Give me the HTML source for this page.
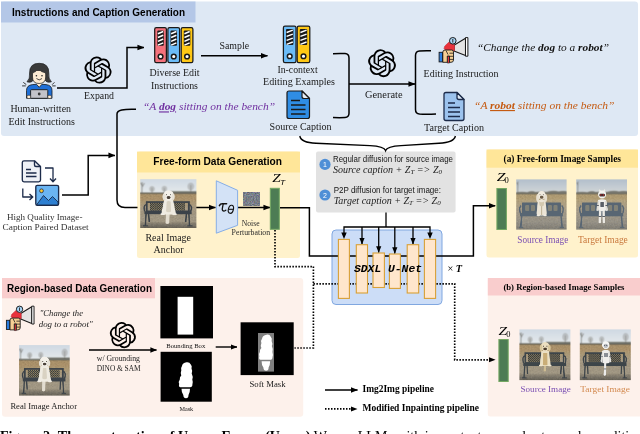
<!DOCTYPE html>
<html><head><meta charset="utf-8"><title>Figure</title>
<style>
html,body{margin:0;padding:0;background:#fff;}
body{width:640px;height:434px;overflow:hidden;}
svg{display:block;will-change:transform;}
.se{font-family:"Liberation Serif",serif;}
.sa{font-family:"Liberation Sans",sans-serif;}
.mo{font-family:"Liberation Mono",monospace;}
</style></head><body>
<svg width="640" height="434" viewBox="0 0 640 434">
<defs>
<marker id="ah" viewBox="0 0 10 10" refX="9.3" refY="5" markerWidth="4.7" markerHeight="4.7" orient="auto" markerUnits="strokeWidth"><path d="M0,1 L10,5 L0,9 z" fill="#000"/></marker>
<marker id="ahs" viewBox="0 0 10 10" refX="9.3" refY="5" markerWidth="5" markerHeight="5" orient="auto" markerUnits="strokeWidth"><path d="M0,1 L10,5 L0,9 z" fill="#000"/></marker>
<path id="oai" d="M22.2819 9.8211a5.9847 5.9847 0 0 0-.5157-4.9108 6.0462 6.0462 0 0 0-6.5098-2.9A6.0651 6.0651 0 0 0 4.9807 4.1818a5.9847 5.9847 0 0 0-3.9977 2.9 6.0462 6.0462 0 0 0 .7427 7.0966 5.98 5.98 0 0 0 .511 4.9107 6.051 6.051 0 0 0 6.5146 2.9001A5.9847 5.9847 0 0 0 13.2599 24a6.0557 6.0557 0 0 0 5.7718-4.2058 5.9894 5.9894 0 0 0 3.9977-2.9001 6.0557 6.0557 0 0 0-.7475-7.0729zm-9.022 12.6081a4.4755 4.4755 0 0 1-2.8764-1.0408l.1419-.0804 4.7783-2.7582a.7948.7948 0 0 0 .3927-.6813v-6.7369l2.02 1.1686a.071.071 0 0 1 .038.052v5.5826a4.504 4.504 0 0 1-4.4945 4.4944zm-9.6607-4.1254a4.4708 4.4708 0 0 1-.5346-3.0137l.142.0852 4.783 2.7582a.7712.7712 0 0 0 .7806 0l5.8428-3.3685v2.3324a.0804.0804 0 0 1-.0332.0615L9.74 19.9502a4.4992 4.4992 0 0 1-6.1408-1.6464zM2.3408 7.8956a4.485 4.485 0 0 1 2.3655-1.9728V11.6a.7664.7664 0 0 0 .3879.6765l5.8144 3.3543-2.0201 1.1685a.0757.0757 0 0 1-.071 0l-4.8303-2.7865A4.504 4.504 0 0 1 2.3408 7.872zm16.5963 3.8558L13.1038 8.364 15.1192 7.2a.0757.0757 0 0 1 .071 0l4.8303 2.7913a4.4944 4.4944 0 0 1-.6765 8.1042v-5.6772a.79.79 0 0 0-.407-.667zm2.0107-3.0231l-.142-.0852-4.7735-2.7818a.7759.7759 0 0 0-.7854 0L9.409 9.2297V6.8974a.0662.0662 0 0 1 .0284-.0615l4.8303-2.7866a4.4992 4.4992 0 0 1 6.6802 4.66zM8.3065 12.863l-2.02-1.1638a.0804.0804 0 0 1-.038-.0567V6.0742a4.4992 4.4992 0 0 1 7.3757-3.4537l-.142.0805L8.704 5.459a.7948.7948 0 0 0-.3927.6813zm1.0976-2.3654l2.602-1.4998 2.6069 1.4998v2.9994l-2.5974 1.4997-2.6067-1.4997Z"/>

<linearGradient id="sky" x1="0" y1="0" x2="0" y2="1"><stop offset="0" stop-color="#cfd9e3"/><stop offset="1" stop-color="#e6eaec"/></linearGradient>
<linearGradient id="field" x1="0" y1="0" x2="0" y2="1"><stop offset="0" stop-color="#ab946b"/><stop offset="0.45" stop-color="#af9a74"/><stop offset="0.62" stop-color="#a89d88"/><stop offset="0.86" stop-color="#9a917f"/><stop offset="0.94" stop-color="#77736a"/><stop offset="1" stop-color="#5f5c54"/></linearGradient>
<filter id="bl" x="-10%" y="-10%" width="120%" height="120%"><feGaussianBlur stdDeviation="1.1"/></filter>
<filter id="bl2" x="-10%" y="-10%" width="120%" height="120%"><feGaussianBlur stdDeviation="0.55"/></filter>
<filter id="nz" x="0" y="0" width="100%" height="100%" color-interpolation-filters="sRGB"><feTurbulence type="fractalNoise" baseFrequency="0.9" numOctaves="2" seed="7"/><feColorMatrix type="matrix" values="0.42 0.12 0.12 0 0.14  0.12 0.38 0.12 0 0.18  0.12 0.12 0.42 0 0.2  0 0 0 0 1"/></filter>
<pattern id="lat" width="4" height="4" patternUnits="userSpaceOnUse"><rect width="4" height="4" fill="#9c8a64"/><path d="M0,0 L4,4 M4,0 L0,4" stroke="#33393e" stroke-width="1.100"/></pattern>
<clipPath id="cp"><rect x="0" y="0" width="100" height="100"/></clipPath>
<filter id="grain" x="0" y="0" width="100%" height="100%" color-interpolation-filters="sRGB"><feTurbulence type="fractalNoise" baseFrequency="0.35" numOctaves="2" seed="3"/><feColorMatrix type="matrix" values="0 0 0 0 0.25  0 0 0 0 0.2  0 0 0 0 0.12  0.9 0.9 0 0 -0.62"/></filter>
<filter id="grainL" x="0" y="0" width="100%" height="100%" color-interpolation-filters="sRGB"><feTurbulence type="fractalNoise" baseFrequency="0.3" numOctaves="2" seed="11"/><feColorMatrix type="matrix" values="0 0 0 0 0.85  0 0 0 0 0.78  0 0 0 0 0.62  0.9 0.9 0 0 -0.66"/></filter>
<g id="scene" clip-path="url(#cp)">
<rect x="0" y="0" width="100" height="100" fill="url(#field)"/>
<rect x="0" y="0" width="100" height="29" fill="url(#sky)"/>
<g filter="url(#bl)">
<path d="M3,28 L3.500,6 M3.500,14 L0.500,7 M3.500,16 L7.500,8" stroke="#6a6862" stroke-width="1.500" fill="none" opacity="0.75"/>
<ellipse cx="21" cy="20" rx="5" ry="6" fill="#8c8c88" opacity="0.45"/><path d="M21,18 V28" stroke="#6a6862" stroke-width="1" opacity="0.7"/>
<ellipse cx="43" cy="19.500" rx="5" ry="6" fill="#8c8c88" opacity="0.42"/><path d="M43,18 V28" stroke="#6a6862" stroke-width="1" opacity="0.7"/>
<ellipse cx="90" cy="15" rx="6" ry="8" fill="#8f8f8c" opacity="0.42"/><path d="M90,12 V27" stroke="#6a6862" stroke-width="1.100" opacity="0.7"/>
<rect x="-2" y="27" width="104" height="3.600" fill="#5d5b50" opacity="0.8"/>
<rect x="52" y="24.500" width="50" height="4" fill="#55554c" opacity="0.75"/>
<rect x="-2" y="31" width="104" height="12" fill="#ad9268" opacity="0.75"/>
<rect x="-2" y="74" width="104" height="14" fill="#a59c8b" opacity="0.75"/>
</g>
<rect x="0" y="30" width="100" height="70" filter="url(#grain)" opacity="0.22"/>
<rect x="0" y="30" width="100" height="70" filter="url(#grainL)" opacity="0.25"/>
</g>
<linearGradient id="skyA" x1="0" y1="0" x2="0" y2="1"><stop offset="0" stop-color="#b3bfcc"/><stop offset="1" stop-color="#d3d7d8"/></linearGradient>
<linearGradient id="fieldA" x1="0" y1="0" x2="0" y2="1"><stop offset="0" stop-color="#b09d76"/><stop offset="0.4" stop-color="#b7a681"/><stop offset="0.62" stop-color="#a69d8d"/><stop offset="0.85" stop-color="#96938b"/><stop offset="1" stop-color="#7d7c77"/></linearGradient>
<g id="sceneA" clip-path="url(#cp)">
<rect x="0" y="0" width="100" height="100" fill="url(#fieldA)"/>
<rect x="0" y="0" width="100" height="28" fill="url(#skyA)"/>
<g filter="url(#bl)">
<path d="M3,28 L3.500,4 M3.500,12 L1,6" stroke="#6a6862" stroke-width="1.400" fill="none" opacity="0.7"/>
<path d="M-2,30 L-2,26 Q10,24 22,25.500 Q30,22 38,25 Q50,24 60,25 Q72,21 84,24 Q94,22 102,24 L102,30z" fill="#66655b" opacity="0.85"/>
<rect x="-2" y="30" width="104" height="10" fill="#b29c72" opacity="0.7"/>
</g>
<rect x="0" y="29" width="100" height="71" filter="url(#grain)" opacity="0.22"/>
<rect x="0" y="29" width="100" height="71" filter="url(#grainL)" opacity="0.28"/>
</g>
<g id="benchL" filter="url(#bl2)">
<rect x="17" y="49" width="63" height="15" fill="url(#lat)"/>
<rect x="40" y="47" width="20" height="19" fill="currentColor"/>
<path d="M11.500,47 H86.500 V66 H11.500z" fill="none" stroke="currentColor" stroke-width="3.300"/>
<rect x="7.500" y="66" width="84" height="6" fill="currentColor"/>
<path d="M10,52 Q5,55 8,66 M88,52 Q93,55 90,66" fill="none" stroke="currentColor" stroke-width="2.6"/>
<path d="M10.500,72 L9,95 M15,72 L16,88 M86.500,72 L88,95 M82,72 L81,88" stroke="currentColor" stroke-width="2.600" fill="none"/>
<path d="M5,95.500 h9 M84,95.500 h9" stroke="currentColor" stroke-width="2.200"/>
</g>
<g id="benchS" filter="url(#bl2)">
<rect x="11" y="46" width="78" height="22" rx="2" fill="currentColor"/>
<g fill="#8d8a78" opacity="0.8"><rect x="18" y="51" width="8" height="12" rx="2"/><rect x="29" y="51" width="8" height="12" rx="2"/><rect x="63" y="51" width="8" height="12" rx="2"/><rect x="74" y="51" width="8" height="12" rx="2"/></g>
<rect x="7.500" y="67" width="85" height="6.500" fill="currentColor"/>
<path d="M10,52 Q5,55 8,67 M90,52 Q95,55 92,67" fill="none" stroke="currentColor" stroke-width="2.800"/>
<path d="M11,73 L9,95 M89,73 L91,95" stroke="currentColor" stroke-width="3" fill="none"/>
<path d="M5,95.500 h9 M86,95.500 h9" stroke="currentColor" stroke-width="2.200"/>
</g>
<g id="dogfig" filter="url(#bl2)">
<path d="M46,71 L45,90 Q48.500,93.500 51.500,90 L52.500,71z" fill="#e2dccf"/>
<path d="M42.500,42 Q50.500,37 58.500,42 L63,68 Q64,72.500 58,72.500 L43,72.500 Q37,72.500 38,68z" fill="#efebe1"/>
<path d="M47,46 Q50.500,44 54,46 L55,66 Q50.500,69 46,66z" fill="#d9d2c2"/>
<ellipse cx="50.500" cy="32.500" rx="9.300" ry="9.800" fill="#f4f1ea"/>
<ellipse cx="42.500" cy="36" rx="3" ry="6.500" fill="#e7e2d7"/><ellipse cx="58.500" cy="36" rx="3" ry="6.500" fill="#e7e2d7"/>
<ellipse cx="50.500" cy="37.500" rx="3.400" ry="2.800" fill="#4a4038"/>
<circle cx="47" cy="32" r="1" fill="#3a332c"/><circle cx="54" cy="32" r="1" fill="#3a332c"/>
<ellipse cx="40" cy="71.500" rx="4" ry="2" fill="#f1ede4"/><ellipse cx="61" cy="71.500" rx="4" ry="2" fill="#f1ede4"/>
</g>
<g id="dogA" filter="url(#bl2)">
<path d="M43,42 Q50.500,38 58,42 L60.500,66 Q61,72 57,72 L44,72 Q40,72 40.500,66z" fill="#ece5d6"/>
<path d="M49.700,48 L49.700,71 L51.300,71 L51.300,48z" fill="#b9ab8d"/>
<path d="M45.500,44 Q50.500,47 55.500,44 L54.500,52 Q50.500,55 46.500,52z" fill="#d3c8af"/>
<ellipse cx="50.500" cy="31.500" rx="8" ry="8.500" fill="#f1ece0"/>
<ellipse cx="42.500" cy="37" rx="2.800" ry="8" fill="#e6dfcf"/><ellipse cx="58.500" cy="37" rx="2.800" ry="8" fill="#e6dfcf"/>
<ellipse cx="50.500" cy="35.500" rx="3.600" ry="3" fill="#6b5a44"/>
<circle cx="47.300" cy="30.500" r="0.900" fill="#4a4038"/><circle cx="53.700" cy="30.500" r="0.900" fill="#4a4038"/>
<ellipse cx="44" cy="71.500" rx="3.500" ry="1.800" fill="#f1ede4"/><ellipse cx="57" cy="71.500" rx="3.500" ry="1.800" fill="#f1ede4"/>
</g>
<g id="dogB" filter="url(#bl2)">
<path d="M48,72 L47.500,82 Q50,84 52,82 L52,72z" fill="#cdbb92"/>
<path d="M43,43 Q50.500,39 58,43 L61,68 Q61.500,72 57,72 L44,72 Q39.500,72 40,68z" fill="#eadfc3"/>
<path d="M46.500,47 Q50.500,45 54.500,47 L55,70 Q50.500,71.500 46,70z" fill="#c9ad77"/>
<ellipse cx="50.500" cy="34" rx="8.800" ry="9" fill="#ecdfc0"/>
<ellipse cx="42.500" cy="36.500" rx="2.800" ry="6" fill="#d9c79c"/><ellipse cx="58.500" cy="36.500" rx="2.800" ry="6" fill="#d9c79c"/>
<ellipse cx="50.500" cy="38.500" rx="3.400" ry="2.800" fill="#4a3b2a"/>
<circle cx="47" cy="33" r="1" fill="#3a2c20"/><circle cx="54" cy="33" r="1" fill="#3a2c20"/>
<ellipse cx="41.500" cy="71" rx="3.500" ry="1.800" fill="#efe6cf"/><ellipse cx="59.500" cy="71" rx="3.500" ry="1.800" fill="#efe6cf"/>
</g>
<g id="robA" filter="url(#bl2)">
<path d="M45,62 L44,86 Q46.500,88.500 49,86 L49.500,64z M56,62 L57,86 Q54.500,88.500 52,86 L51.500,64z" fill="#eceae4"/>
<path d="M44,74 h5.500 M51.500,74 h5.500" stroke="#5a5f66" stroke-width="2"/>
<path d="M43,41 Q51,38 59,41 L58,62 Q51,65 44,62z" fill="#f0efeb"/>
<rect x="47.500" y="45" width="7" height="10" rx="1" fill="#5a6068"/>
<path d="M42.500,42 L39.500,62 L43.500,63.500 L45.500,44z M59.500,42 L62.500,62 L58.500,63.500 L56.500,44z" fill="#dedcd5"/>
<path d="M40,52 h4.500 M57.500,52 h4.500" stroke="#5a5f66" stroke-width="1.800"/>
<path d="M44,24 L46,19 L49,23z M58,24 L56,19 L53,23z" fill="#eceae4"/>
<ellipse cx="51" cy="30" rx="8" ry="8" fill="#f4f3ef"/>
<rect x="45.500" y="28.500" width="11" height="5.500" rx="2.500" fill="#3a2a2c"/>
<circle cx="48.500" cy="31" r="1.200" fill="#e03030"/><circle cx="53.500" cy="31" r="1.200" fill="#e03030"/>
</g>
<g id="robB" filter="url(#bl2)">
<path d="M48,66 L46.500,90 Q48.500,93 51,90 L52,66z" fill="#ebebea"/>
<path d="M47,78 h5" stroke="#6a6f76" stroke-width="1.800"/>
<path d="M44,42 Q51,39 58,42 L57.500,66 Q51,68.500 44.500,66z" fill="#efeeec"/>
<path d="M47,46 h8 v8 h-8z" fill="#8a8f96"/>
<path d="M43.500,43 L40.500,62 Q41,66 44,65 L46,45z M58.500,43 L61.500,62 Q61,66 58,65 L56,45z" fill="#e0dfdc"/>
<path d="M41,54 h4 M57,54 h4" stroke="#6a6f76" stroke-width="1.600"/>
<ellipse cx="51" cy="31" rx="7.200" ry="7.800" fill="#f5f5f3"/>
<ellipse cx="51" cy="32.500" rx="4.500" ry="4" fill="#b9bcc0"/>
<circle cx="49" cy="31.500" r="1" fill="#3a3f46"/><circle cx="53" cy="31.500" r="1" fill="#3a3f46"/>
</g>
<g id="mega">
<path d="M17.500,8.200 L29,1.200 V18.600 L17.500,14z" fill="#e4e4e4" stroke="#1a1a1a" stroke-width="1.100" stroke-linejoin="round"/>
<path d="M29,0.600 H31.400 V19.200 H29z" fill="#fff" stroke="#1a1a1a" stroke-width="1" stroke-linejoin="round"/>
<path d="M8.300,9 L12.500,5 L18,8 V13.600 L9.500,13.600 L7.500,11.500z" fill="#e8323c" stroke="#c0202a" stroke-width="0.500"/>
<circle cx="16.300" cy="3.800" r="3.300" fill="#a9d5f5" stroke="#1a1a1a" stroke-width="1"/>
<path d="M16.300,2 V5.600" stroke="#1a1a1a" stroke-width="0.900"/>
<path d="M10.800,19 H13 V26 H10.800z" fill="#e8323c" stroke="#1a1a1a" stroke-width="0.600"/>
<path d="M6.300,15.300 Q6.300,13 8.500,13 L15,13 Q17,13 17,15 L17,23 Q17,25.300 14.500,25.300 L13,25.300 L13,19 L10.800,19 L10.800,25.300 L6.300,25.300z" fill="#f5cf94" stroke="#1a1a1a" stroke-width="0.900" stroke-linejoin="round"/>
<path d="M13,16.200 H17 M13,19.300 H17 M13,22.400 H17 M9.500,13.500 L11.500,17.500" stroke="#1a1a1a" stroke-width="0.800" fill="none"/>
<rect x="2.600" y="15.300" width="3.400" height="9.600" fill="#2b7de0" stroke="#1a1a1a" stroke-width="0.900"/>
</g>
<path id="maskshape" d="M186.500,362.300 Q189.500,361.800 190.800,364.500 Q192.300,366 191.500,368.500 Q192.800,371 191.700,373.500 Q193.300,376.500 192.300,379.500 Q193.300,382.500 192.400,384.500 Q192.500,387.300 190,387.300 L180.500,387.300 Q178.300,387 179.200,384 Q178.200,381.500 179.800,379.500 Q179.500,377 181.300,375.500 Q180.200,373 181.300,370.500 Q180.500,368 182,366 Q182.500,362.800 186.500,362.300z M181.500,388.800 L190,388.800 Q190,393 188.500,395 Q188.500,398.300 186,398.300 Q183.500,398.300 183.300,395 Q181.500,393 181.500,388.800z"/>
</defs>
<rect x="1" y="1.500" width="637" height="134.500" rx="3" fill="#dee8f4"/>
<rect x="1" y="1.500" width="194.500" height="21" fill="#b4c7e7"/>
<rect x="137" y="151.600" width="163" height="106.400" rx="2.500" fill="#fff2cc"/>
<rect x="137" y="151.600" width="163" height="20.900" fill="#ffe699"/>
<rect x="316" y="151.500" width="139.600" height="61" rx="2" fill="#e2e2e2"/>
<rect x="486.500" y="149.500" width="151.500" height="108" rx="2.500" fill="#fff2cc"/>
<rect x="486.500" y="149.500" width="151.500" height="18.200" fill="#ffe699"/>
<rect x="487.800" y="278" width="154" height="138.600" rx="2.500" fill="#fdf1eb"/>
<rect x="487.800" y="278" width="154" height="17.500" fill="#f9cdcd"/>
<rect x="2" y="278" width="301.200" height="138.700" rx="3" fill="#fdf1eb"/>
<rect x="2" y="278" width="153" height="20.300" fill="#f9cdcd"/>
<rect x="332" y="230" width="110" height="74.500" rx="4" fill="#ccddf7" stroke="#80a7e0" stroke-width="1"/>
<g fill="none" stroke="#000" stroke-width="1.500" stroke-linejoin="miter">
<path d="M57,88 H127 V47.500 H144" marker-end="url(#ah)"/>
<path d="M201,55.800 H267.500" marker-end="url(#ah)"/>
<path d="M333,53.700 Q340,53.200 345,53.600 Q349,54 349,58 V113.300 Q349,117.300 345,117.500 Q340,117.800 333,117.500"/>
<path d="M349,84 H415" marker-end="url(#ah)"/>
<path d="M431,50.800 Q424,50.600 419.500,51 Q415.500,51.400 415.500,55.500 V109.500 Q415.500,113.600 419.500,114 Q426,114.400 436,114"/>
<path d="M136,109.300 Q117,108.500 117,114 V200 Q117,207.500 125,207.500 H137.500"/>
<path d="M62,195 H88.200 V155.400 H115" marker-end="url(#ah)"/>
<path d="M196,207.500 H215.500" marker-end="url(#ah)"/>
<path d="M238,207.500 H270" marker-end="url(#ah)"/>
<path d="M280,207.800 H309.400 V256 H473.400 V205.800 H495.200" marker-end="url(#ah)"/>
</g>
<path d="M299.800,136 Q301,142.500 316,143.300 L370,145.600 Q384,146.200 385.600,150.600 Q387.200,146.200 401,145.600 L439,143.300 Q454,142.500 455.400,136" fill="none" stroke="#000" stroke-width="1.400"/>
<g fill="none" stroke="#000" stroke-width="1.650" stroke-dasharray="1.500,1.500">
<path d="M275,230 V266.600 H313.400 V348 H294.500"/>
<path d="M313.400,283.800 H454.700 V359.800 H490"/>
<path d="M325,408.900 H352"/>
</g>
<path d="M489,357.300 L495.600,359.800 L489,362.300z M351,406.400 L357.500,408.900 L351,411.400z" fill="#000"/>
<path d="M325,390 H357.500" fill="none" stroke="#000" stroke-width="1.500" marker-end="url(#ah)"/>
<path d="M89,350 H156.500" fill="none" stroke="#000" stroke-width="1.400" marker-end="url(#ah)"/>
<path d="M215.700,347 H237" fill="none" stroke="#000" stroke-width="1.400" marker-end="url(#ah)"/>
<g fill="#ffe6cc" stroke="#d9a036" stroke-width="1.100">
<rect x="338.400" y="239.400" width="11" height="59"/>
<rect x="356.300" y="244.700" width="11.200" height="48.300"/>
<rect x="373" y="253" width="11.400" height="34.500"/>
<rect x="389.400" y="254" width="11" height="34.400"/>
<rect x="407.200" y="244.700" width="11.500" height="48.300"/>
<rect x="424.400" y="239.400" width="11.200" height="59"/>
</g>
<g fill="none" stroke="#000" stroke-width="1.300">
<path d="M386,212.500 V227"/>
<path d="M344,235 V227 H430 V235"/>
<path d="M362,227 V244" marker-end="url(#ahs)"/>
<path d="M378.700,227 V252.300" marker-end="url(#ahs)"/>
<path d="M394.800,227 V253.300" marker-end="url(#ahs)"/>
<path d="M413,227 V244" marker-end="url(#ahs)"/>
</g>
<path d="M341.300,232.600 L344,239 L346.700,232.600z M427.300,232.600 L430,239 L432.700,232.600z" fill="#000"/>
<use href="#oai" transform="translate(84.500,56.500) scale(1.130)"/>
<use href="#oai" transform="translate(368.100,49.300) scale(1.160)"/>
<use href="#oai" transform="translate(109.800,322) scale(1.090)"/>
<g>
<path d="M27,81.800 Q30.200,79 29.600,73 Q29.400,63.300 39.200,63.300 Q49,63.300 48.800,73 Q48.200,79 51.400,81.800 Q47,83.200 45,80 L33.400,80 Q31.400,83.200 27,81.800z" fill="#3a3a3a" stroke="#1a1a1a" stroke-width="0.700"/>
<path d="M37,82 H41.400 V87 H37z" fill="#fdebd3"/>
<path d="M26.500,98.300 V90.500 Q26.500,85.300 32.500,84.600 L36.500,84.300 L39.200,87.300 L41.900,84.300 L46,84.600 Q52,85.300 52,90.500 V98.300z" fill="#1f6fd6" stroke="#1a1a1a" stroke-width="0.800" stroke-linejoin="round"/>
<path d="M32.500,74 Q32.500,70.500 35,70.500 L43.500,70.500 Q45.700,70.500 45.700,74 L45.700,77 Q45.700,83.500 39.100,83.500 Q32.500,83.500 32.500,77z" fill="#fdebd3" stroke="#1a1a1a" stroke-width="0.700"/>
<path d="M32.200,73.500 Q36,72.500 38,69 Q41,72.500 46,73.500 L46,69 Q42,65.500 36,66.500 Q32,68 32.200,73.500z" fill="#3a3a3a"/>
<circle cx="36.400" cy="75.800" r="0.800" fill="#222"/><circle cx="42" cy="75.800" r="0.800" fill="#222"/>
<path d="M36.700,78.800 Q39.200,81.300 41.700,78.800" fill="none" stroke="#222" stroke-width="0.800" stroke-linecap="round"/>
<rect x="30.600" y="89.700" width="17.200" height="8.600" rx="0.800" fill="#c3c3c9" stroke="#1a1a1a" stroke-width="0.900"/>
<circle cx="39.200" cy="94" r="1.400" fill="#3a3a3a"/>
<rect x="27" y="95.300" width="3.600" height="3.200" rx="1.200" fill="#fdebd3" stroke="#222" stroke-width="0.600"/>
<rect x="47.800" y="95.300" width="3.600" height="3.200" rx="1.200" fill="#fdebd3" stroke="#222" stroke-width="0.600"/>
<g stroke="#222" stroke-width="0.900" stroke-linecap="round"><path d="M23.600,82.600 L26,84.400 M22.500,85.900 H25.400 M54.200,82.600 L52.400,84.400 M52.600,85.900 H55.300"/></g>
</g>
<g stroke="#1a1a1a" stroke-linejoin="round"><rect x="154.7" y="27.6" width="11.7" height="35" rx="1.6" fill="#f4727c" stroke-width="1.25"/><rect x="157.30" y="30.50" width="6.50" height="15.22" rx="1" fill="#1a1a1a" stroke="none"/><path d="M157.90,33.74 l5.30,-2.3M157.90,37.54 l5.30,-2.3M157.90,41.35 l5.30,-2.3M157.90,45.15 l5.30,-2.3" stroke="#fff" stroke-width="1.5" fill="none"/><circle cx="160.55" cy="56.48" r="2.350" fill="#fff" stroke-width="1.500"/></g>
<g stroke="#1a1a1a" stroke-linejoin="round"><rect x="167.9" y="27.6" width="11.7" height="35" rx="1.6" fill="#6cbcf7" stroke-width="1.25"/><rect x="170.50" y="30.50" width="6.50" height="15.22" rx="1" fill="#1a1a1a" stroke="none"/><path d="M171.10,33.74 l5.30,-2.3M171.10,37.54 l5.30,-2.3M171.10,41.35 l5.30,-2.3M171.10,45.15 l5.30,-2.3" stroke="#fff" stroke-width="1.5" fill="none"/><circle cx="173.75" cy="56.48" r="2.350" fill="#fff" stroke-width="1.500"/></g>
<g stroke="#1a1a1a" stroke-linejoin="round"><rect x="181.2" y="27.6" width="11.7" height="35" rx="1.6" fill="#ffc815" stroke-width="1.25"/><rect x="183.80" y="30.50" width="6.50" height="15.22" rx="1" fill="#1a1a1a" stroke="none"/><path d="M184.40,33.74 l5.30,-2.3M184.40,37.54 l5.30,-2.3M184.40,41.35 l5.30,-2.3M184.40,45.15 l5.30,-2.3" stroke="#fff" stroke-width="1.5" fill="none"/><circle cx="187.05" cy="56.48" r="2.350" fill="#fff" stroke-width="1.500"/></g>
<g stroke="#1a1a1a" stroke-linejoin="round"><rect x="283.4" y="26.2" width="12.6" height="36.4" rx="1.6" fill="#6cbcf7" stroke-width="1.25"/><rect x="286.00" y="29.10" width="7.40" height="15.83" rx="1" fill="#1a1a1a" stroke="none"/><path d="M286.60,32.46 l6.20,-2.3M286.60,36.42 l6.20,-2.3M286.60,40.38 l6.20,-2.3M286.60,44.34 l6.20,-2.3" stroke="#fff" stroke-width="1.5" fill="none"/><circle cx="289.70" cy="56.23" r="2.350" fill="#fff" stroke-width="1.500"/></g>
<g stroke="#1a1a1a" stroke-linejoin="round"><rect x="297.2" y="26.2" width="12.6" height="36.4" rx="1.6" fill="#ffc815" stroke-width="1.25"/><rect x="299.80" y="29.10" width="7.40" height="15.83" rx="1" fill="#1a1a1a" stroke="none"/><path d="M300.40,32.46 l6.20,-2.3M300.40,36.42 l6.20,-2.3M300.40,40.38 l6.20,-2.3M300.40,44.34 l6.20,-2.3" stroke="#fff" stroke-width="1.5" fill="none"/><circle cx="303.50" cy="56.23" r="2.350" fill="#fff" stroke-width="1.500"/></g>
<g stroke="#1a1a1a" stroke-width="1.200" stroke-linejoin="round">
<path d="M289,91 H302 L309.500,98.500 V116.500 Q309.500,118.500 307.500,118.500 H289 Q287,118.500 287,116.500 V93 Q287,91 289,91z" fill="#2f8de4"/>
<path d="M302,91 V96.500 Q302,98.500 304,98.500 H309.500z" fill="#e8eef5"/>
<path d="M291,100.500 H300M291,105 H305.500M291,109.500 H305.500M291,114 H305.500" stroke-width="1.400" fill="none"/>
</g>
<g stroke="#1c2b4a" stroke-width="1.300" stroke-linejoin="round">
<path d="M446,92.500 H457 L464,99.500 V118.500 Q464,120.500 462,120.500 H446 Q444,120.500 444,118.500 V94.500 Q444,92.500 446,92.500z" fill="#9cc3ee"/>
<path d="M457,92.500 V97.500 Q457,99.500 459,99.500 H464z" fill="#dfeaf7"/>
<path d="M448,103 H455M448,107.500 H460M448,112 H460M448,116.500 H460" stroke-width="1.500" fill="none"/>
</g>
<use href="#mega" transform="translate(436.500,37)"/>
<use href="#mega" transform="translate(3.900,305.600) scale(0.960)"/>
<g stroke="#1c2b4a" stroke-width="1.350" fill="none" stroke-linejoin="round">
<path d="M24,160.800 H34.500 L40.500,166.500 V180 Q40.500,181.800 38.700,181.800 H24 Q22.300,181.800 22.300,180 V162.500 Q22.300,160.800 24,160.800z" fill="#eef1f6"/>
<path d="M34.500,160.800 V165 Q34.500,166.500 36,166.500 H40.500"/>
<path d="M26,169.500 H31M26,173 H36.500M26,176.500 H36.500" stroke-width="1.300"/>
<rect x="35.800" y="185.300" width="22.800" height="20" rx="1.500" fill="#6bb5f2"/>
<path d="M36.500,205 L43.500,195.500 L48.500,200.500 L52.500,196.500 L58,202 V205z" fill="#2d7fd1" stroke-width="0.900"/>
<circle cx="41.500" cy="190.800" r="1.900" fill="#fdc92a" stroke-width="0.800"/>
<path d="M45,168 H53 V181.500 M50,178.500 L53,181.800 L56,178.500" stroke-width="1.300"/>
<path d="M22.800,188.500 V197 H32.500 M29.500,194 L32.800,197 L29.500,200" stroke-width="1.300"/>
</g>
<svg x="140.2" y="179.2" width="56.2" height="48.8" viewBox="0 0 100 100" preserveAspectRatio="none" style="color:#3b4248"><use href="#scene"/><use href="#benchL"/><use href="#dogfig"/></svg>
<path d="M216.300,180.800 L237.600,190.300 V225.300 L216.300,233.200z" fill="#d3e2f6" stroke="#86aee6" stroke-width="1"/>
<rect x="243.700" y="192.300" width="15.500" height="13.300" filter="url(#nz)"/>
<rect x="270.300" y="188.300" width="9" height="41" fill="#4d7c54" stroke="#74a862" stroke-width="1"/>
<rect x="496.900" y="188.500" width="9.500" height="41" fill="#4d7c54" stroke="#74a862" stroke-width="1"/>
<rect x="498.900" y="339.500" width="9.300" height="42" fill="#4d7c54" stroke="#74a862" stroke-width="1"/>
<svg x="516.2" y="179.4" width="50.4" height="50.2" viewBox="0 0 100 100" preserveAspectRatio="none" style="color:#596673"><use href="#sceneA"/><use href="#benchS"/><use href="#dogA"/></svg>
<svg x="576.2" y="179.4" width="50.8" height="50.2" viewBox="0 0 100 100" preserveAspectRatio="none" style="color:#596673"><use href="#sceneA"/><use href="#benchS"/><use href="#robA"/></svg>
<svg x="519.4" y="329.4" width="51" height="50.7" viewBox="0 0 100 100" preserveAspectRatio="none" style="color:#3e444a"><use href="#scene"/><use href="#benchL"/><use href="#dogB"/></svg>
<svg x="579.8" y="329.4" width="51" height="50.7" viewBox="0 0 100 100" preserveAspectRatio="none" style="color:#3e444a"><use href="#scene"/><use href="#benchL"/><use href="#robB"/></svg>
<svg x="19" y="345.1" width="50.7" height="50.5" viewBox="0 0 100 100" preserveAspectRatio="none" style="color:#3b4248"><use href="#scene"/><use href="#benchL"/><use href="#dogfig"/></svg>
<rect x="160.400" y="286" width="52.600" height="52.400" fill="#000"/>
<rect x="177.600" y="296.800" width="15.600" height="37.800" fill="#fff"/>
<rect x="160.600" y="351.800" width="51.200" height="49.900" fill="#000"/>
<use href="#maskshape" fill="#fff"/>
<rect x="240.600" y="322.300" width="53.100" height="52.800" fill="#000"/>
<rect x="258" y="333" width="16" height="38.600" fill="#808080"/>
<use href="#maskshape" fill="#fff" transform="translate(80.100,-27.600)"/>
<text class="sa" x="12" y="16.2" font-size="10.5" textLength="173" lengthAdjust="spacingAndGlyphs" font-weight="bold" style="fill:#000" >Instructions and Caption Generation</text>
<text class="se" x="84" y="99" font-size="10" textLength="30" lengthAdjust="spacingAndGlyphs" style="fill:#1a1a1a" >Expand</text>
<text class="se" x="10.4" y="112" font-size="10" textLength="60.6" lengthAdjust="spacingAndGlyphs" style="fill:#1a1a1a" >Human-written</text>
<text class="se" x="8.5" y="124.5" font-size="10" textLength="66.5" lengthAdjust="spacingAndGlyphs" style="fill:#1a1a1a" >Edit Instructions</text>
<text class="se" x="149.5" y="76.4" font-size="10" textLength="50" lengthAdjust="spacingAndGlyphs" style="fill:#1a1a1a" >Diverse Edit</text>
<text class="se" x="151" y="89" font-size="10" textLength="47" lengthAdjust="spacingAndGlyphs" style="fill:#1a1a1a" >Instructions</text>
<text class="se" x="219.5" y="49" font-size="10" textLength="29.5" lengthAdjust="spacingAndGlyphs" style="fill:#1a1a1a" >Sample</text>
<text class="se" x="277.4" y="73" font-size="10" textLength="40.3" lengthAdjust="spacingAndGlyphs" style="fill:#1a1a1a" >In-context</text>
<text class="se" x="263" y="84.7" font-size="10" textLength="72" lengthAdjust="spacingAndGlyphs" style="fill:#1a1a1a" >Editing Examples</text>
<text class="se" x="269.6" y="130" font-size="10" textLength="62" lengthAdjust="spacingAndGlyphs" style="fill:#1a1a1a" >Source Caption</text>
<text class="se" x="365" y="97.5" font-size="10" textLength="37.5" lengthAdjust="spacingAndGlyphs" style="fill:#1a1a1a" >Generate</text>
<text class="se" x="423.6" y="77" font-size="10" textLength="75" lengthAdjust="spacingAndGlyphs" style="fill:#1a1a1a" >Editing Instruction</text>
<text class="se" x="424" y="130.6" font-size="10" textLength="60" lengthAdjust="spacingAndGlyphs" style="fill:#1a1a1a" >Target Caption</text>
<text class="se" x="143" y="110.4" font-size="11.4" textLength="132" lengthAdjust="spacingAndGlyphs" font-style="italic" style="fill:#7030a0" >“A <tspan font-weight="bold" text-decoration="underline">dog</tspan> sitting on the bench”</text>
<text class="se" x="477" y="51.2" font-size="11.4" textLength="132" lengthAdjust="spacingAndGlyphs" font-style="italic" style="fill:#111" >“Change the <tspan font-weight="bold">dog</tspan> to a <tspan font-weight="bold">robot</tspan>”</text>
<text class="se" x="474" y="109" font-size="11.4" textLength="140.5" lengthAdjust="spacingAndGlyphs" font-style="italic" style="fill:#c55a11" >“A <tspan font-weight="bold" text-decoration="underline">robot</tspan> sitting on the bench”</text>
<text class="se" x="7" y="220" font-size="9.2" textLength="75.4" lengthAdjust="spacingAndGlyphs" style="fill:#333" >High Quality Image-</text>
<text class="se" x="2.5" y="230.3" font-size="9.2" textLength="86.2" lengthAdjust="spacingAndGlyphs" style="fill:#333" >Caption Paired Dataset</text>
<text class="sa" x="153.3" y="164.7" font-size="10.5" textLength="128.6" lengthAdjust="spacingAndGlyphs" font-weight="bold" style="fill:#000" >Free-form Data Generation</text>
<text class="se" x="145.5" y="240.8" font-size="10" textLength="45.5" lengthAdjust="spacingAndGlyphs" style="fill:#1a1a1a" >Real Image</text>
<text class="se" x="153.5" y="253" font-size="10" textLength="30" lengthAdjust="spacingAndGlyphs" style="fill:#1a1a1a" >Anchor</text>
<g fill="none" stroke="#111" stroke-linecap="round" stroke-linejoin="round"><path d="M219.400,205.600 Q220.300,203.600 222.500,203.700 L226.600,203.700" stroke-width="1.500"/><path d="M223.200,204 L222.300,208.600 Q222,211 224,211.100 Q225.200,211.100 225.900,210.200" stroke-width="1.300"/></g>
<g fill="none" stroke="#111" stroke-width="1.100"><ellipse cx="230.900" cy="209.300" rx="2.500" ry="4.100" transform="rotate(14 230.900 209.300)"/><path d="M228.400,209.300 H233.400"/></g>
<text class="se" x="241.7" y="226.2" font-size="7.7" textLength="17.9" lengthAdjust="spacingAndGlyphs" style="fill:#2a2a2a" >Noise</text>
<text class="se" x="231.6" y="235.3" font-size="7.7" textLength="38.5" lengthAdjust="spacingAndGlyphs" style="fill:#2a2a2a" >Perturbation</text>
<text class="se" x="272.3" y="182.1" font-size="11.8" textLength="8.4" lengthAdjust="spacingAndGlyphs" font-style="italic" style="fill:#000" >Z</text>
<text class="sa" x="280" y="184.5" font-size="8" textLength="5.2" lengthAdjust="spacingAndGlyphs" font-style="italic" style="fill:#000" >T</text>
<circle cx="325" cy="164.400" r="5.600" fill="#4f8fd6"/><circle cx="325" cy="195" r="5.600" fill="#4f8fd6"/>
<text class="sa" x="325" y="166.9" font-size="7" text-anchor="middle" style="fill:#fff" >1</text>
<text class="sa" x="325" y="197.5" font-size="7" text-anchor="middle" style="fill:#fff" >2</text>
<text class="sa" x="333" y="162" font-size="8.3" textLength="120" lengthAdjust="spacingAndGlyphs" style="fill:#151515" >Regular diffusion for source image</text>
<text class="se" x="333" y="172.5" font-size="9.3" textLength="109" lengthAdjust="spacingAndGlyphs" font-style="italic" style="fill:#222" >Source caption + Z<tspan font-size="6.500" dy="1.500">T</tspan><tspan dy="-1.500"> =&gt; Z</tspan><tspan font-size="6.500" dy="1.500">0</tspan></text>
<text class="sa" x="333.7" y="192.5" font-size="8.3" textLength="107.3" lengthAdjust="spacingAndGlyphs" style="fill:#151515" >P2P diffusion for target image:</text>
<text class="se" x="333.7" y="203.5" font-size="9.3" textLength="107" lengthAdjust="spacingAndGlyphs" font-style="italic" style="fill:#222" >Target caption + Z<tspan font-size="6.500" dy="1.500">T</tspan><tspan dy="-1.500"> =&gt; Z</tspan><tspan font-size="6.500" dy="1.500">0</tspan></text>
<text class="mo" x="354" y="272" font-size="11.3" textLength="68" lengthAdjust="spacingAndGlyphs" font-weight="bold" font-style="italic" style="fill:#000" >SDXL U-Net</text>
<text class="se" x="447.4" y="272" font-size="10" textLength="14.6" lengthAdjust="spacingAndGlyphs" style="fill:#000" >× <tspan font-style="italic" font-weight="bold">T</tspan></text>
<text class="se" x="503.5" y="162" font-size="9.4" textLength="117.5" lengthAdjust="spacingAndGlyphs" font-weight="bold" style="fill:#000" >(a) Free-form Image Samples</text>
<text class="se" x="496.7" y="181" font-size="12.3" textLength="8.7" lengthAdjust="spacingAndGlyphs" font-style="italic" style="fill:#000" >Z</text>
<text class="se" x="504.5" y="183.1" font-size="7.8" textLength="4.3" lengthAdjust="spacingAndGlyphs" style="fill:#000" >0</text>
<text class="se" x="517.3" y="243" font-size="9.3" textLength="51" lengthAdjust="spacingAndGlyphs" style="fill:#7a4fb3" >Source Image</text>
<text class="se" x="578" y="243" font-size="9.3" textLength="49.8" lengthAdjust="spacingAndGlyphs" style="fill:#c9783c" >Target Image</text>
<text class="se" x="503.4" y="289.6" font-size="8.7" textLength="121" lengthAdjust="spacingAndGlyphs" font-weight="bold" style="fill:#000" >(b) Region-based Image Samples</text>
<text class="se" x="498.4" y="335" font-size="12.3" textLength="8.6" lengthAdjust="spacingAndGlyphs" font-style="italic" style="fill:#000" >Z</text>
<text class="se" x="506.3" y="336.8" font-size="7.8" textLength="4.2" lengthAdjust="spacingAndGlyphs" style="fill:#000" >0</text>
<text class="se" x="520.5" y="391.8" font-size="8.5" textLength="50.3" lengthAdjust="spacingAndGlyphs" style="fill:#7a4fb3" >Source Image</text>
<text class="se" x="580.2" y="391.8" font-size="8.5" textLength="49.8" lengthAdjust="spacingAndGlyphs" style="fill:#d38a50" >Target Image</text>
<text class="se" x="362.5" y="392.3" font-size="9.45" textLength="71.5" lengthAdjust="spacingAndGlyphs" font-weight="bold" style="fill:#000" >Img2Img pipeline</text>
<text class="se" x="362.5" y="411.4" font-size="9.45" textLength="116.5" lengthAdjust="spacingAndGlyphs" font-weight="bold" style="fill:#000" >Modified Inpainting pipeline</text>
<text class="sa" x="7" y="292.3" font-size="10.4" textLength="145" lengthAdjust="spacingAndGlyphs" font-weight="bold" style="fill:#000" >Region-based Data Generation</text>
<text class="se" x="39.7" y="315.8" font-size="8.8" textLength="43.3" lengthAdjust="spacingAndGlyphs" font-style="italic" style="fill:#222" >"Change the</text>
<text class="se" x="38.7" y="326.8" font-size="8.8" textLength="54" lengthAdjust="spacingAndGlyphs" font-style="italic" style="fill:#222" >dog to a robot"</text>
<text class="se" x="10.4" y="408.7" font-size="8.6" textLength="66.6" lengthAdjust="spacingAndGlyphs" style="fill:#1a1a1a" >Real Image Anchor</text>
<text class="se" x="96.8" y="361.3" font-size="7.6" textLength="43.2" lengthAdjust="spacingAndGlyphs" style="fill:#222" >w/ Grounding</text>
<text class="se" x="96.8" y="371" font-size="7.6" textLength="43.8" lengthAdjust="spacingAndGlyphs" style="fill:#222" >DINO &amp; SAM</text>
<text class="se" x="166.2" y="347.6" font-size="6.7" textLength="39.1" lengthAdjust="spacingAndGlyphs" style="fill:#151515" >Bounding Box</text>
<text class="se" x="179.4" y="410.5" font-size="6.4" textLength="13.8" lengthAdjust="spacingAndGlyphs" style="fill:#151515" >Mask</text>
<text class="se" x="249.5" y="386.6" font-size="8.7" textLength="36" lengthAdjust="spacingAndGlyphs" style="fill:#1a1a1a" >Soft Mask</text>
<text class="se" x="0" y="441.2" font-size="14" style="fill:#000" ><tspan font-weight="bold">Figure 2: The construction of UnseenEraser (Unser) </tspan>We use LLMs with in-context examples to produce editing instructions</text>
</svg>
</body></html>
